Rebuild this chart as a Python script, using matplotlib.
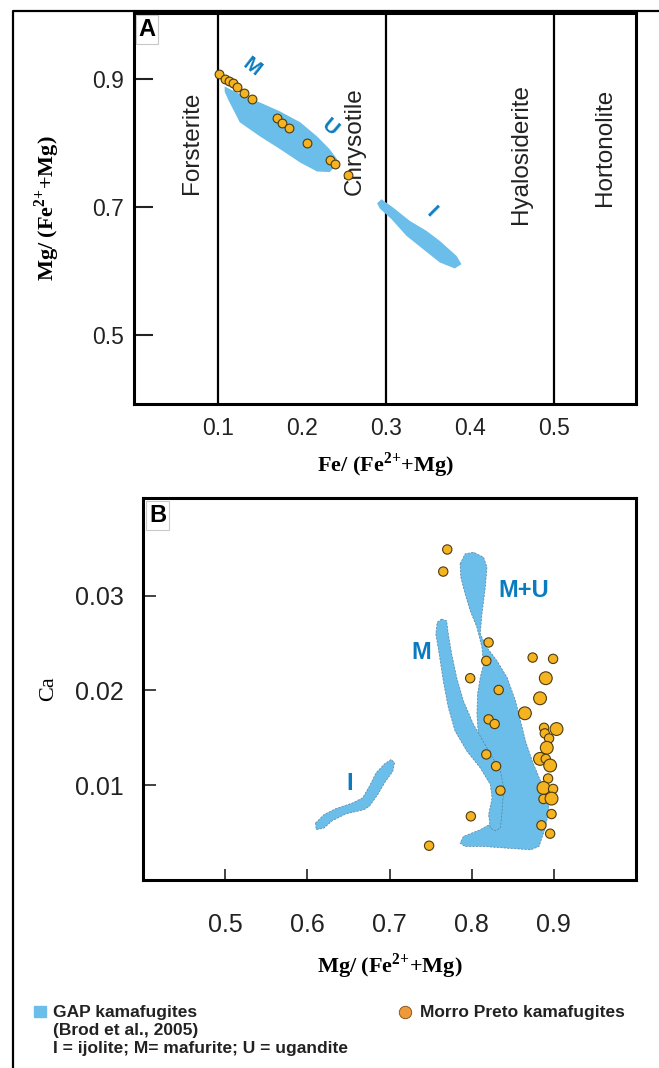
import matplotlib
matplotlib.use('Agg')
from matplotlib import pyplot as plt
from matplotlib.patches import Rectangle

plt.rcParams['font.family'] = ['Liberation Sans', 'DejaVu Sans']
plt.rcParams['mathtext.fontset'] = 'custom'
plt.rcParams['mathtext.rm'] = 'Liberation Serif:bold'
plt.rcParams['mathtext.bf'] = 'Liberation Serif:bold'

FIELD = '#6BBDEA'
LABEL_BLUE = '#0B7BC1'
DOT = '#F5B320'
DOT_EDGE = '#4d3b10'
LEG_DOT = '#EE9A3A'

# ---- panel A: olivine Fe/(Fe+Mg) vs Mg/(Fe+Mg)
a_fe = [0.1015, 0.1083, 0.1135, 0.1175, 0.1223, 0.1310, 0.1405,
        0.1699, 0.1758, 0.1845, 0.2063, 0.2333, 0.2393, 0.2551]
a_mg = [0.9078, 0.9011, 0.8973, 0.8938, 0.8880, 0.8781, 0.8688,
        0.8391, 0.8323, 0.8234, 0.8011, 0.7734, 0.7683, 0.7505]

a_mu_fe = [0.108, 0.126, 0.150, 0.174, 0.198, 0.218, 0.233, 0.242, 0.239,
           0.233, 0.218, 0.198, 0.174, 0.150, 0.126, 0.112, 0.108]
a_mu_mg = [0.889, 0.877, 0.864, 0.850, 0.833, 0.811, 0.791, 0.775, 0.763,
           0.755, 0.756, 0.770, 0.791, 0.811, 0.833, 0.869, 0.881]

a_i_fe = [0.2949, 0.3087, 0.3286, 0.3485, 0.3643, 0.3842, 0.3901,
          0.3821, 0.3643, 0.3444, 0.3246, 0.3068, 0.2929, 0.2896]
a_i_mg = [0.7125, 0.6995, 0.6786, 0.6630, 0.6473, 0.6239, 0.6109,
          0.6042, 0.6136, 0.6344, 0.6552, 0.6813, 0.6980, 0.7063]

boundaries = [0.1, 0.3, 0.5]
names = ['Forsterite', 'Chrysotile', 'Hyalosiderite', 'Hortonolite']
name_fe = [0.069, 0.263, 0.4615, 0.561]
name_mg = [0.801, 0.804, 0.783, 0.793]

# ---- panel B: Mg/(Fe+Mg) vs Ca
b_mu_mg = [0.7859, 0.7920, 0.8022, 0.8145, 0.8186, 0.8166, 0.8125, 0.8104, 0.8186,
           0.8309, 0.8432, 0.8534, 0.8595, 0.8656, 0.8738, 0.8840, 0.8923, 0.8943,
           0.8881, 0.8820, 0.8718, 0.8432, 0.8145, 0.7920, 0.7859, 0.7899, 0.8104,
           0.8248, 0.8309, 0.8350, 0.8329, 0.8227, 0.8125, 0.8084, 0.8064, 0.8071,
           0.8104, 0.8145, 0.8125, 0.8064, 0.7982, 0.7920, 0.7868]
b_mu_ca = [0.03335, 0.03441, 0.03458, 0.03405, 0.03299, 0.03088, 0.02806, 0.02595,
           0.02453, 0.02312, 0.02135, 0.01889, 0.01677, 0.01466, 0.01254, 0.01042,
           0.00901, 0.00725, 0.00513, 0.00354, 0.00319, 0.00336, 0.00354, 0.00354,
           0.00389, 0.00460, 0.00531, 0.00601, 0.00725, 0.00866, 0.01007, 0.01183,
           0.01325, 0.01500, 0.01748, 0.01960, 0.02135, 0.02277, 0.02453, 0.02665,
           0.02841, 0.03018, 0.03194]

b_m_mg = [0.7634, 0.7695, 0.7716, 0.7757, 0.7818, 0.7900, 0.8022, 0.8186, 0.8350,
          0.8391, 0.8370, 0.8350, 0.8288, 0.8227, 0.8206, 0.8248, 0.8227, 0.8104,
          0.7941, 0.7798, 0.7716, 0.7654, 0.7605, 0.7564, 0.7580]
b_m_ca = [0.02753, 0.02735, 0.02595, 0.02383, 0.02135, 0.01889, 0.01642, 0.01395,
          0.01148, 0.00972, 0.00725, 0.00548, 0.00520, 0.00548, 0.00689, 0.00866,
          0.01007, 0.01183, 0.01360, 0.01571, 0.01818, 0.02101, 0.02383, 0.02595,
          0.02718]

b_i_mg = [0.6100, 0.6202, 0.6346, 0.6550, 0.6672, 0.6755, 0.6836, 0.6939, 0.7021,
          0.7061, 0.7041, 0.6939, 0.6857, 0.6755, 0.6693, 0.6469, 0.6304, 0.6202,
          0.6108]
b_i_ca = [0.00601, 0.00690, 0.00753, 0.00813, 0.00866, 0.00989, 0.01130, 0.01225,
          0.01272, 0.01236, 0.01148, 0.01025, 0.00901, 0.00778, 0.00743, 0.00697,
          0.00626, 0.00548, 0.00531]

b_mg = [0.7703, 0.7654, 0.8206, 0.8178, 0.7982, 0.8329, 0.8742, 0.8991, 0.8902,
        0.8832, 0.8648, 0.8206, 0.8280, 0.8881, 0.9033, 0.8890, 0.8942, 0.8914,
        0.8832, 0.8902, 0.8955, 0.8178, 0.8297, 0.8930, 0.8874, 0.8991, 0.8874,
        0.8972, 0.8350, 0.8972, 0.7990, 0.8849, 0.8955, 0.7482]
b_ca = [0.03487, 0.03254, 0.02506, 0.02312, 0.02129, 0.02005, 0.02347, 0.02333,
        0.02129, 0.01917, 0.01759, 0.01695, 0.01646, 0.01606, 0.01593, 0.01547,
        0.01494, 0.01395, 0.01278, 0.01278, 0.01208, 0.01325, 0.01201, 0.01071,
        0.00971, 0.00961, 0.00855, 0.00859, 0.00944, 0.00696, 0.00672, 0.00577,
        0.00489, 0.00362]
b_big = [0, 0, 0, 0, 0, 0, 0, 0, 1, 1, 1, 0, 0, 0, 1, 0, 0, 1, 1, 0, 1, 0, 0, 0,
         1, 0, 0, 1, 0, 0, 0, 0, 0, 0]

fig = plt.figure(figsize=(6.59, 10.68), dpi=100)

# background frame + legend (pixel coords)
ov = fig.add_axes([0, 0, 1, 1], zorder=-1)
ov.set_xlim(0, 659)
ov.set_ylim(1068, 0)
ov.axis('off')
ov.plot([13, 13, 659], [1068, 11, 11], color='black', lw=1.6, solid_capstyle='butt')
ov.add_patch(Rectangle((34, 1006), 12, 11, color=FIELD))
ov.scatter([405], [1012], s=80, color=LEG_DOT, edgecolors='#7a4a10', linewidths=0.6)
leg_lines = ['GAP kamafugites', '(Brod et al., 2005)', 'I = ijolite; M= mafurite; U = ugandite']
for i, t in enumerate(leg_lines):
    ov.text(53, 1012 + 18.5 * i, t, fontsize=12.5, fontweight='bold', va='center', color='#222222')
ov.text(420, 1012, 'Morro Preto kamafugites', fontsize=12.5, fontweight='bold', va='center', color='#222222')

sup = r'$^{\text{2+}}$'

# ---- panel A
ax = fig.add_axes([0.2033, 0.6217, 0.7618, 0.3661])
ax.fill(a_mu_fe, a_mu_mg, color=FIELD, lw=0, zorder=2)
ax.fill(a_i_fe, a_i_mg, color=FIELD, lw=0, zorder=2)
for b in boundaries:
    ax.axvline(b, color='black', lw=1.6, zorder=1)
for n, x, y in zip(names, name_fe, name_mg):
    ax.text(x, y, n, rotation=90, ha='center', va='center', fontsize=17.5, color='#222222', zorder=3)
ax.scatter(a_fe, a_mg, s=40, color=DOT, edgecolors=DOT_EDGE, linewidths=0.8, zorder=4)
ax.text(0.140, 0.919, 'M', rotation=-38, color=LABEL_BLUE, fontsize=15, fontweight='bold',
        ha='center', va='center')
ax.text(0.233, 0.825, 'U', rotation=-40, color=LABEL_BLUE, fontsize=15, fontweight='bold',
        ha='center', va='center')
ax.text(0.354, 0.692, 'I', rotation=-45, color=LABEL_BLUE, fontsize=15, fontweight='bold',
        ha='center', va='center')
ax.text(0.009, 0.988, 'A', transform=ax.transAxes, ha='left', va='top', fontsize=17, fontweight='bold',
        bbox=dict(boxstyle='square,pad=0.12', fc='white', ec='#c8c8c8', lw=0.8))
ax.set_xlim(0, 0.598)
ax.set_ylim(0.392, 1.004)
ax.set_xticks([0.1, 0.2, 0.3, 0.4, 0.5])
ax.set_xticklabels(['0.1', '0.2', '0.3', '0.4', '0.5'])
ax.set_yticks([0.5, 0.7, 0.9])
ax.set_yticklabels(['0.5', '0.7', '0.9'])
ax.tick_params(axis='x', length=0, labelsize=16.5, pad=9, colors='#222222')
ax.tick_params(axis='y', direction='in', length=14, width=1.5, labelsize=16.5, pad=7, colors='#222222')
for s in ax.spines.values():
    s.set_linewidth(2.2)
ax.set_xlabel('Fe/ (Fe' + sup + '+Mg)', family='Liberation Serif', fontweight='bold', fontsize=16, labelpad=8)
ax.set_ylabel('Mg/ (Fe' + sup + '+Mg)', family='Liberation Serif', fontweight='bold', fontsize=16, labelpad=22)

# ---- panel B
bx = fig.add_axes([0.2170, 0.1760, 0.7481, 0.3577])
for xs, ys in [(b_mu_mg, b_mu_ca), (b_m_mg, b_m_ca), (b_i_mg, b_i_ca)]:
    bx.fill(xs, ys, facecolor=FIELD, edgecolor='#55809c', lw=0.5, ls=(0, (3, 2)), zorder=2)
sizes = [85 if big else 45 for big in b_big]
bx.scatter(b_mg, b_ca, s=sizes, color=DOT, edgecolors=DOT_EDGE, linewidths=0.8, zorder=4)
bx.text(0.8638, 0.0305, 'M+U', color=LABEL_BLUE, fontsize=17, fontweight='bold', ha='center', va='center')
bx.text(0.739, 0.0240, 'M', color=LABEL_BLUE, fontsize=17, fontweight='bold', ha='center', va='center')
bx.text(0.652, 0.0102, 'I', color=LABEL_BLUE, fontsize=17, fontweight='bold', ha='center', va='center')
bx.text(0.012, 0.985, 'B', transform=bx.transAxes, ha='left', va='top', fontsize=17, fontweight='bold',
        bbox=dict(boxstyle='square,pad=0.12', fc='white', ec='#c8c8c8', lw=0.8))
bx.set_xlim(0.4, 1.0)
bx.set_ylim(0, 0.0403)
bx.set_xticks([0.5, 0.6, 0.7, 0.8, 0.9])
bx.set_xticklabels(['0.5', '0.6', '0.7', '0.8', '0.9'])
bx.set_yticks([0.01, 0.02, 0.03])
bx.set_yticklabels(['0.01', '0.02', '0.03'])
bx.tick_params(axis='x', direction='in', length=8, width=1.2, labelsize=18, pad=24, colors='#222222')
bx.tick_params(axis='y', direction='in', length=9, width=1.2, labelsize=18, pad=14, colors='#222222')
for s in bx.spines.values():
    s.set_linewidth(2.2)
bx.set_xlabel('Mg/ (Fe' + sup + '+Mg)', family='Liberation Serif', fontweight='bold', fontsize=16, labelpad=10)
bx.set_ylabel('Ca', family='Liberation Serif', fontsize=16, labelpad=12)

fig.savefig('out.png', dpi=100)
